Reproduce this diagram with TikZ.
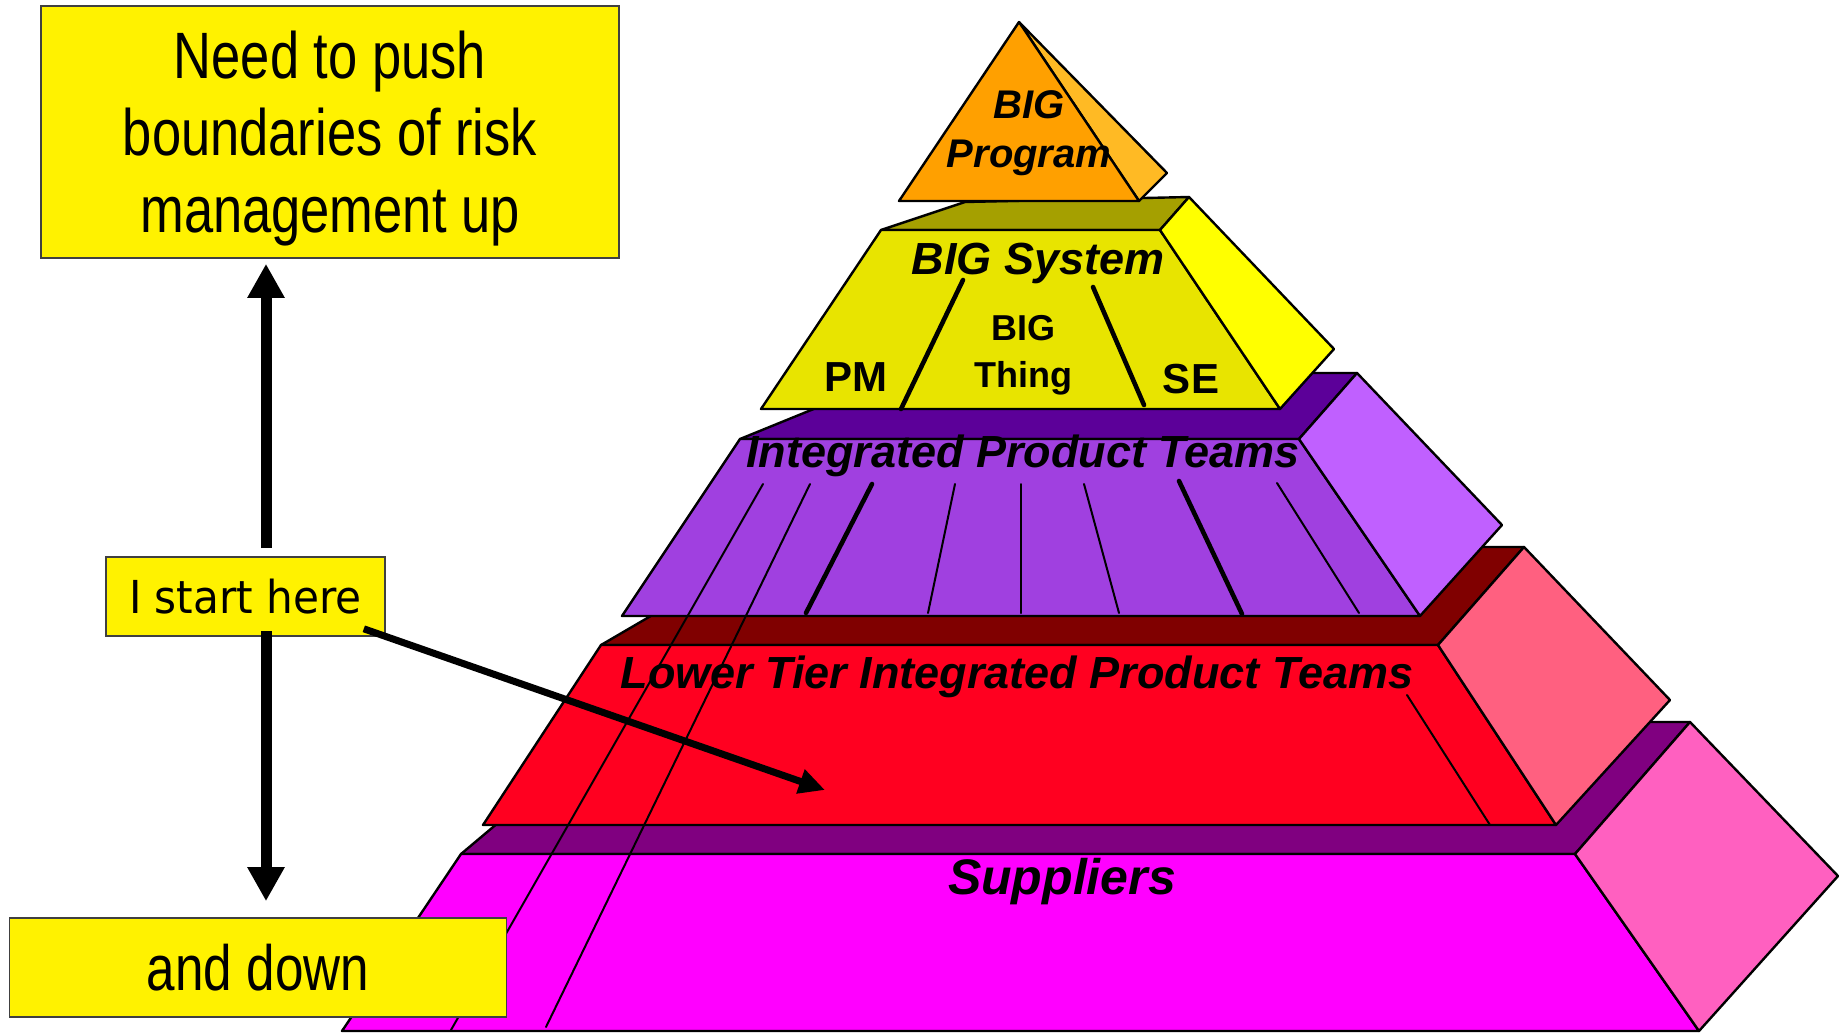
\documentclass[tikz,border=0pt]{standalone}
\usepackage{fontspec}
\setmainfont{Liberation Sans}
\newfontfamily\narrowfont[FakeStretch=0.8]{Liberation Sans}
\newfontfamily\startfont[FakeStretch=0.93]{DejaVu Sans}
\usepackage{tkz-euclide}
\usetikzlibrary{arrows.meta,calc}

\definecolor{orgF}{RGB}{255,160,0}
\definecolor{orgS}{RGB}{255,186,36}
\definecolor{yelT}{RGB}{165,160,0}
\definecolor{yelF}{RGB}{232,228,0}
\definecolor{yelS}{RGB}{255,255,0}
\definecolor{purT}{RGB}{92,0,153}
\definecolor{purF}{RGB}{160,64,224}
\definecolor{purS}{RGB}{192,96,255}
\definecolor{redT}{RGB}{128,0,0}
\definecolor{redF}{RGB}{255,0,32}
\definecolor{redS}{RGB}{255,96,128}
\definecolor{magT}{RGB}{128,0,128}
\definecolor{magF}{RGB}{255,0,255}
\definecolor{magS}{RGB}{255,96,192}

\tikzset{
  face/.style={draw=black,line width=1.2pt},
  thin line/.style={line width=1pt},
  thick line/.style={line width=2.3pt},
  box/.style={draw=black!75,fill=yellow,line width=0.8pt,inner sep=0pt,align=center},
  label/.style={inner sep=0pt,font=\bfseries\itshape\fontsize{22.5}{27}\selectfont},
  big arrow/.style={line width=5.5pt,-{Triangle[width=17.5pt,length=17pt]}},
  mid arrow/.style={line width=3.5pt,-{Triangle[width=12pt,length=13pt]}}
}

\begin{document}
\begin{tikzpicture}[x=0.5pt,y=-0.5pt]
  \useasboundingbox (0,0) rectangle (1848,1034);
  \tkzDefPoints{461/854/Ma,1575/854/Mb,1699/1031/Mc,342/1031/Md,618/722/Me,1690/722/Mf,1838/876/Mg}
  \tkzDefPoints{601/645/Ra,1438/645/Rb,1556/825/Rc,483/825/Rd,769/547/Re,1524/547/Rf,1670/700/Rg}
  \tkzDefPoints{740/439/Pa,1299/439/Pb,1420/616/Pc,622/616/Pd,902/373/Pe,1357/373/Pf,1502/525/Pg}
  \tkzDefPoints{881/230/Ya,1160/230/Yb,1280/409/Yc,761/409/Yd,965/202/Ye,1189/197/Yf,1334/349/Yg}
  \tkzDefPoints{1019/22/Oa,899/201/Ob,1139/201/Oc,1167/173/Od}
  \tkzDrawPolygon[face,fill=magT](Ma,Me,Mf,Mb)
  \tkzDrawPolygon[face,fill=magF](Ma,Mb,Mc,Md)
  \tkzDrawPolygon[face,fill=magS](Mb,Mf,Mg,Mc)
  \tkzDrawPolygon[face,fill=redT](Ra,Re,Rf,Rb)
  \tkzDrawPolygon[face,fill=redF](Ra,Rb,Rc,Rd)
  \tkzDrawPolygon[face,fill=redS](Rb,Rf,Rg,Rc)
  \tkzDrawPolygon[face,fill=purT](Pa,Pe,Pf,Pb)
  \tkzDrawPolygon[face,fill=purF](Pa,Pb,Pc,Pd)
  \tkzDrawPolygon[face,fill=purS](Pb,Pf,Pg,Pc)
  \tkzDrawPolygon[face,fill=yelT](Ya,Ye,Yf,Yb)
  \tkzDrawPolygon[face,fill=yelF](Ya,Yb,Yc,Yd)
  \tkzDrawPolygon[face,fill=yelS](Yb,Yf,Yg,Yc)
  \tkzDrawPolygon[face,fill=orgS](Oa,Od,Oc)
  \tkzDrawPolygon[face,fill=orgF](Oa,Oc,Ob)
  \tkzDefPoints{763/484/A,451/1030/B,810/484/C,546/1027/D,955/484/E,928/613/F,1021/484/G,1021/613/H,1084/484/I,1119/613/J,1277/483/K,1359/613/L,1407/695/M,1490/825/N}
  \tkzDefPoints{872/484/P,806/613/Q,1179/481/R,1242/614/S,963/280/T,901/409/U,1093/287/V,1144/405/W}
  \tkzDrawSegments[thin line](A,B C,D E,F G,H I,J K,L M,N)
  \tkzDrawSegments[thick line](P,Q R,S T,U V,W)
  \node[label,font=\bfseries\itshape\fontsize{20}{24.5}\selectfont,align=center,anchor=north] (prog) at (1029,90) {BIG\\Program};
  \node[label,anchor=base] (sys) at (1038,274) {BIG System};
  \node[label,font=\bfseries\fontsize{21}{25}\selectfont,anchor=base] (pm) at (856,391) {PM};
  \node[label,font=\bfseries\fontsize{18}{23.5}\selectfont,align=center,anchor=north] (thing) at (1023,315) {BIG\\Thing};
  \node[label,font=\bfseries\fontsize{21}{25}\selectfont,anchor=base] (se) at (1191,393) {SE};
  \node[label,anchor=base] (ipt) at (1023,467) {Integrated Product Teams};
  \node[label,anchor=base] (lipt) at (1017,688) {Lower Tier Integrated Product Teams};
  \node[label,font=\bfseries\itshape\fontsize{25}{30}\selectfont,anchor=base] (sup) at (1062,894) {Suppliers};
  \node[box,minimum width=289pt,minimum height=126pt,text depth=0pt,font=\narrowfont\fontsize{32.8}{38.5}\selectfont] (Up) at (330,132) {Need to push\\boundaries of risk\\management up};
  \node[box,minimum width=139.5pt,minimum height=39.5pt,font=\startfont\fontsize{22.7}{27}\selectfont] (Start) at (245.5,596.5) {I start here};
  \node[box,minimum width=248.5pt,minimum height=49.5pt,font=\narrowfont\fontsize{32}{38}\selectfont] (Down) at (258,967.5) {and down};
  \coordinate (X) at (266,600);
  \coordinate (Tgt) at (825,790);
  \draw[big arrow,shorten <=4pt,shorten >=2.5pt] (Start.north -| X) -- (Up.south -| X);
  \draw[big arrow,shorten <=-3pt,shorten >=8pt] (Start.south -| X) -- (Down.north -| X);
  \draw[mid arrow] ($(Start.south east)+(-22,-8)$) -- (Tgt);
\end{tikzpicture}
\end{document}
